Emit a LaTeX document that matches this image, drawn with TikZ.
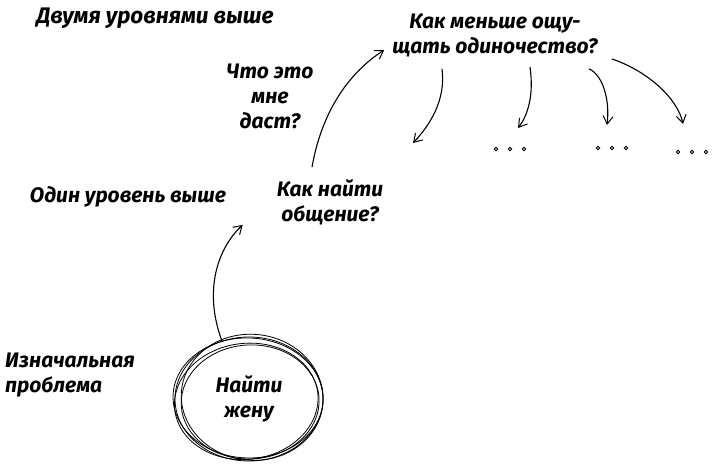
\documentclass[tikz,border=0pt]{standalone}
\usepackage{fontspec}
\setmainfont{Fira Sans}
\usetikzlibrary{arrows.meta,shapes.geometric}
\tikzset{
    note/.style={font=\bfseries\itshape\fontsize{21}{25}\selectfont, align=center, inner sep=0pt},
    sketch/.style={line width=1.1pt, -{Straight Barb[length=8pt,width=10pt,line width=1pt]}},
    ring/.style={line width=0.8pt}
}
\newcommand{\drawDots}[2]{
    \foreach \d in {0,14,28} \draw[line width=0.8pt] (#1+\d,#2) circle (1.8pt)
}

\begin{document}
\begin{tikzpicture}[x=1pt,y=-1pt]
            \useasboundingbox (0,0) rectangle (720,466);

            % levels
            \node[note, font=\bfseries\itshape\fontsize{22.5}{25}\selectfont] (top) at (155,18) {Двумя уровнями выше};
            \node[note] (one) at (128,197) {Один уровень выше};
            \node[note, align=left] (base) at (70,375) {Изначальная\\проблема};
            \node[note] (ask) at (270,96) {Что это\\мне\\даст?};

            % questions
            \node[ellipse, minimum width=148pt, minimum height=124pt, note] (goal) at (249,399) {Найти\\жену};
            \node[note] (talk) at (330,202) {Как найти\\общение?};
            \node[note] (alone) at (495,35) {Как меньше ощу-\\щать одиночество?};

            \foreach \dx/\dy/\a/\rx/\ry in {0/0/0/74/62, -3/2/7/72/58, 3/-2/-6/71/63, 1/3/3/69/57, -1/-1/-2/75/60}
                \draw[ring, rotate around={\a:(goal.center)}] ([shift={(\dx,\dy)}]goal.center) ellipse (\rx pt and \ry pt);

            \draw[sketch] (goal.115) .. controls (203,290) and (218,248) .. ([xshift=-34pt]talk.south west);
            \draw[sketch] ([xshift=-18pt,yshift=12pt]talk.north) .. controls (322,110) and (350,72) .. ([xshift=-8pt,yshift=-15pt]alone.west);

            \coordinate (d1) at (413,143);
            \coordinate (d2) at (518,128);
            \coordinate (d3) at (607,125);
            \coordinate (d4) at (683,124);
            \draw[sketch] ([xshift=-53pt,yshift=-12pt]alone.south) .. controls (446,100) and (430,125) .. (d1);
            \draw[sketch] ([xshift=35pt,yshift=-10pt]alone.south) .. controls (534,95) and (528,115) .. (d2);
            \draw[sketch] ([xshift=94pt,yshift=-12pt]alone.south) .. controls (603,75) and (610,100) .. (d3);
            \draw[sketch] ([xshift=14pt,yshift=-2pt]alone.south east) .. controls (650,72) and (678,100) .. (d4);

            \drawDots{496}{149};
            \drawDots{598}{148};
            \drawDots{678}{152};
\end{tikzpicture}
\end{document}
